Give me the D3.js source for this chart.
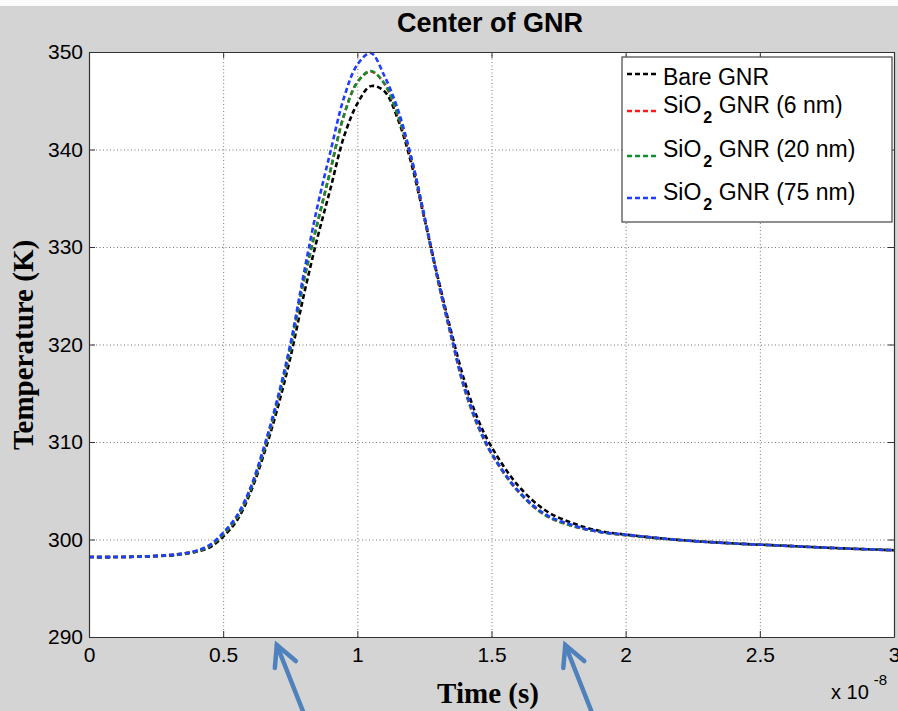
<!DOCTYPE html>
<html>
<head>
<meta charset="utf-8">
<script src="https://cdn.jsdelivr.net/npm/d3@7"></script>
<style>
  body { margin: 0; background: #d4d4d4; }
  svg { display: block; font-family: "Liberation Sans", Arial, sans-serif; }
  .grid line { stroke: #777; stroke-dasharray: 1,2.5; }
  .grid .domain { display: none; }
  .axis path, .axis line { stroke: #333; }
  .axis text { font-size: 21px; fill: #000; }
</style>
</head>
<body>
<svg id="chart" width="898" height="711"></svg>
<script>
// time in units of 1e-8 s
const timeTicks = [0, 0.5, 1, 1.5, 2, 2.5, 3];
const tempTicks = [290, 300, 310, 320, 330, 340, 350];

const times = [0, 0.1, 0.2, 0.3, 0.35, 0.4, 0.45, 0.5, 0.55, 0.6, 0.65, 0.7, 0.75, 0.8, 0.85,
  0.9, 0.95, 1.0, 1.05, 1.1, 1.15, 1.2, 1.25, 1.3, 1.35, 1.4, 1.45, 1.5, 1.6, 1.7, 1.8, 1.9,
  2.0, 2.2, 2.4, 2.6, 2.8, 3.0];

const tempBare = [298.2, 298.2, 298.25, 298.35, 298.5, 298.75, 299.2, 300.3, 301.9, 304.7, 308.6,
  313.2, 318.6, 325.0, 330.8, 336.0, 341.3, 344.7, 346.5, 346.0, 343.2, 338.7, 332.9, 326.9,
  321.3, 316.2, 312.3, 309.5, 305.5, 303.0, 301.7, 300.9, 300.5, 299.95, 299.6, 299.35, 299.1, 298.9];

const tempSi6 = [298.2, 298.2, 298.25, 298.4, 298.55, 298.8, 299.35, 300.55, 302.2, 305.0, 309.0,
  313.9, 319.5, 326.5, 332.3, 337.9, 343.5, 346.9, 348.0, 346.8, 343.6, 339.2, 333.0, 326.6,
  320.8, 315.4, 311.6, 308.8, 304.9, 302.5, 301.4, 300.8, 300.45, 299.95, 299.6, 299.35, 299.1, 298.9];

const tempSi20 = [298.2, 298.2, 298.25, 298.4, 298.55, 298.8, 299.35, 300.55, 302.2, 305.0, 309.0,
  313.9, 319.5, 326.5, 332.3, 337.9, 343.5, 346.9, 348.05, 346.8, 343.6, 339.2, 333.0, 326.6,
  320.8, 315.4, 311.6, 308.8, 304.9, 302.5, 301.4, 300.8, 300.45, 299.95, 299.6, 299.35, 299.1, 298.9];

const tempSi75 = [298.2, 298.2, 298.25, 298.4, 298.55, 298.85, 299.45, 300.7, 302.4, 305.2, 309.3,
  314.2, 320.0, 327.2, 334.0, 339.8, 345.3, 348.7, 349.9, 347.6, 344.2, 339.3, 333.2, 326.8,
  321.0, 315.6, 311.8, 308.9, 305.0, 302.6, 301.5, 300.8, 300.5, 299.95, 299.6, 299.35, 299.1, 298.9];

const seriesNames = ["Bare GNR", "SiO2 GNR (6 nm)", "SiO2 GNR (20 nm)", "SiO2 GNR (75 nm)"];
const seriesColors = ["#000000", "#ff1a1a", "#0d9130", "#1f3dff"];
const seriesTemps = [tempBare, tempSi6, tempSi20, tempSi75];

// arrows below the axis point at these times
const arrowTimes = [0.70, 1.775];

const svg = d3.select('#chart');
const plot = { left: 89, right: 894, top: 52, bottom: 637 };

svg.append('rect').attr('width', 898).attr('height', 711).attr('fill', '#d4d4d4');
svg.append('rect').attr('width', 898).attr('height', 6).attr('fill', '#fbfbfb');

const x = d3.scaleLinear().domain([0, 3]).range([plot.left, plot.right]);
const y = d3.scaleLinear().domain([290, 350]).range([plot.bottom, plot.top]);
const w = plot.right - plot.left, h = plot.bottom - plot.top;

svg.append('rect')
  .attr('x', plot.left).attr('y', plot.top)
  .attr('width', w).attr('height', h)
  .attr('fill', '#fff');

// grid
svg.append('g').attr('class', 'grid')
  .attr('transform', `translate(0,${plot.bottom})`)
  .call(d3.axisBottom(x).tickValues(timeTicks.slice(1, -1)).tickSize(-h).tickFormat(''));
svg.append('g').attr('class', 'grid')
  .attr('transform', `translate(${plot.left},0)`)
  .call(d3.axisLeft(y).tickValues(tempTicks.slice(1, -1)).tickSize(-w).tickFormat(''));

// curves
const line = d3.line()
  .x((d, i) => x(times[i]))
  .y(d => y(d))
  .curve(d3.curveCatmullRom.alpha(0.5));

const curves = svg.append('g');
seriesTemps.forEach((temps, k) => {
  curves.append('path')
    .datum(temps)
    .attr('d', line)
    .attr('fill', 'none')
    .attr('stroke', seriesColors[k])
    .attr('stroke-width', 2.6)
    .attr('stroke-dasharray', '5,3');
});

// axes with inward ticks
svg.append('g').attr('class', 'axis')
  .attr('transform', `translate(0,${plot.bottom})`)
  .call(d3.axisBottom(x).tickValues(timeTicks).tickSize(-6).tickPadding(10).tickSizeOuter(0)
    .tickFormat(d3.format('')));
svg.append('g').attr('class', 'axis')
  .attr('transform', `translate(${plot.left},0)`)
  .call(d3.axisLeft(y).tickValues(tempTicks).tickSize(-6).tickPadding(6).tickSizeOuter(0));
svg.append('g').attr('class', 'axis')
  .attr('transform', `translate(0,${plot.top})`)
  .call(d3.axisTop(x).tickValues(timeTicks).tickSize(-6).tickSizeOuter(0).tickFormat(''));
svg.append('g').attr('class', 'axis')
  .attr('transform', `translate(${plot.right},0)`)
  .call(d3.axisRight(y).tickValues(tempTicks).tickSize(-6).tickSizeOuter(0).tickFormat(''));

svg.selectAll('.axis .domain').attr('stroke-width', 1.2);

// titles
svg.append('text')
  .attr('x', 490).attr('y', 32)
  .attr('text-anchor', 'middle')
  .attr('font-size', 27).attr('font-weight', 'bold')
  .text('Center of GNR');

svg.append('text')
  .attr('transform', 'translate(33,345) rotate(-90)')
  .attr('text-anchor', 'middle')
  .attr('font-family', '"Liberation Serif", "Times New Roman", serif')
  .attr('font-size', 29).attr('font-weight', 'bold')
  .text('Temperature (K)');

svg.append('text')
  .attr('x', 488).attr('y', 703)
  .attr('text-anchor', 'middle')
  .attr('font-family', '"Liberation Serif", "Times New Roman", serif')
  .attr('font-size', 29).attr('font-weight', 'bold')
  .text('Time (s)');

const expo = svg.append('text').attr('x', 831).attr('y', 699).attr('font-size', 20);
expo.append('tspan').text('x 10');
expo.append('tspan').attr('dy', -14).attr('dx', 5).attr('font-size', 15).text('-8');

// legend
const legend = svg.append('g');
legend.append('rect')
  .attr('x', 622).attr('y', 57).attr('width', 270).attr('height', 165)
  .attr('fill', '#fff').attr('stroke', '#444').attr('stroke-width', 1.2);

const rowText = [85, 113, 157, 200];
const rowLine = [74, 111, 156, 198];
seriesNames.forEach((name, k) => {
  legend.append('line')
    .attr('x1', 627).attr('x2', 657)
    .attr('y1', rowLine[k]).attr('y2', rowLine[k])
    .attr('stroke', seriesColors[k]).attr('stroke-width', 2.6)
    .attr('stroke-dasharray', '5,3');
  const t = legend.append('text').attr('x', 663).attr('y', rowText[k]).attr('font-size', 23);
  if (name.startsWith('SiO2')) {
    t.append('tspan').text('SiO');
    t.append('tspan').attr('dy', 10).attr('dx', 2).attr('font-size', 16).attr('font-weight', 'bold').text('2');
    t.append('tspan').attr('dy', -10).text(name.slice(4));
  } else {
    t.text(name);
  }
});

// annotation arrows under the time axis
const arrows = svg.append('g')
  .attr('stroke', '#4f81bd').attr('stroke-width', 4.5)
  .attr('stroke-linecap', 'round').attr('fill', 'none');
arrowTimes.forEach(t => {
  const tx = x(t), ty = plot.bottom + 8;
  arrows.append('line').attr('x1', tx).attr('y1', ty).attr('x2', tx + 28).attr('y2', 716);
  arrows.append('path')
    .attr('d', `M${tx - 2},${ty + 23} L${tx},${ty} L${tx + 19},${ty + 16}`);
});
</script>
</body>
</html>
